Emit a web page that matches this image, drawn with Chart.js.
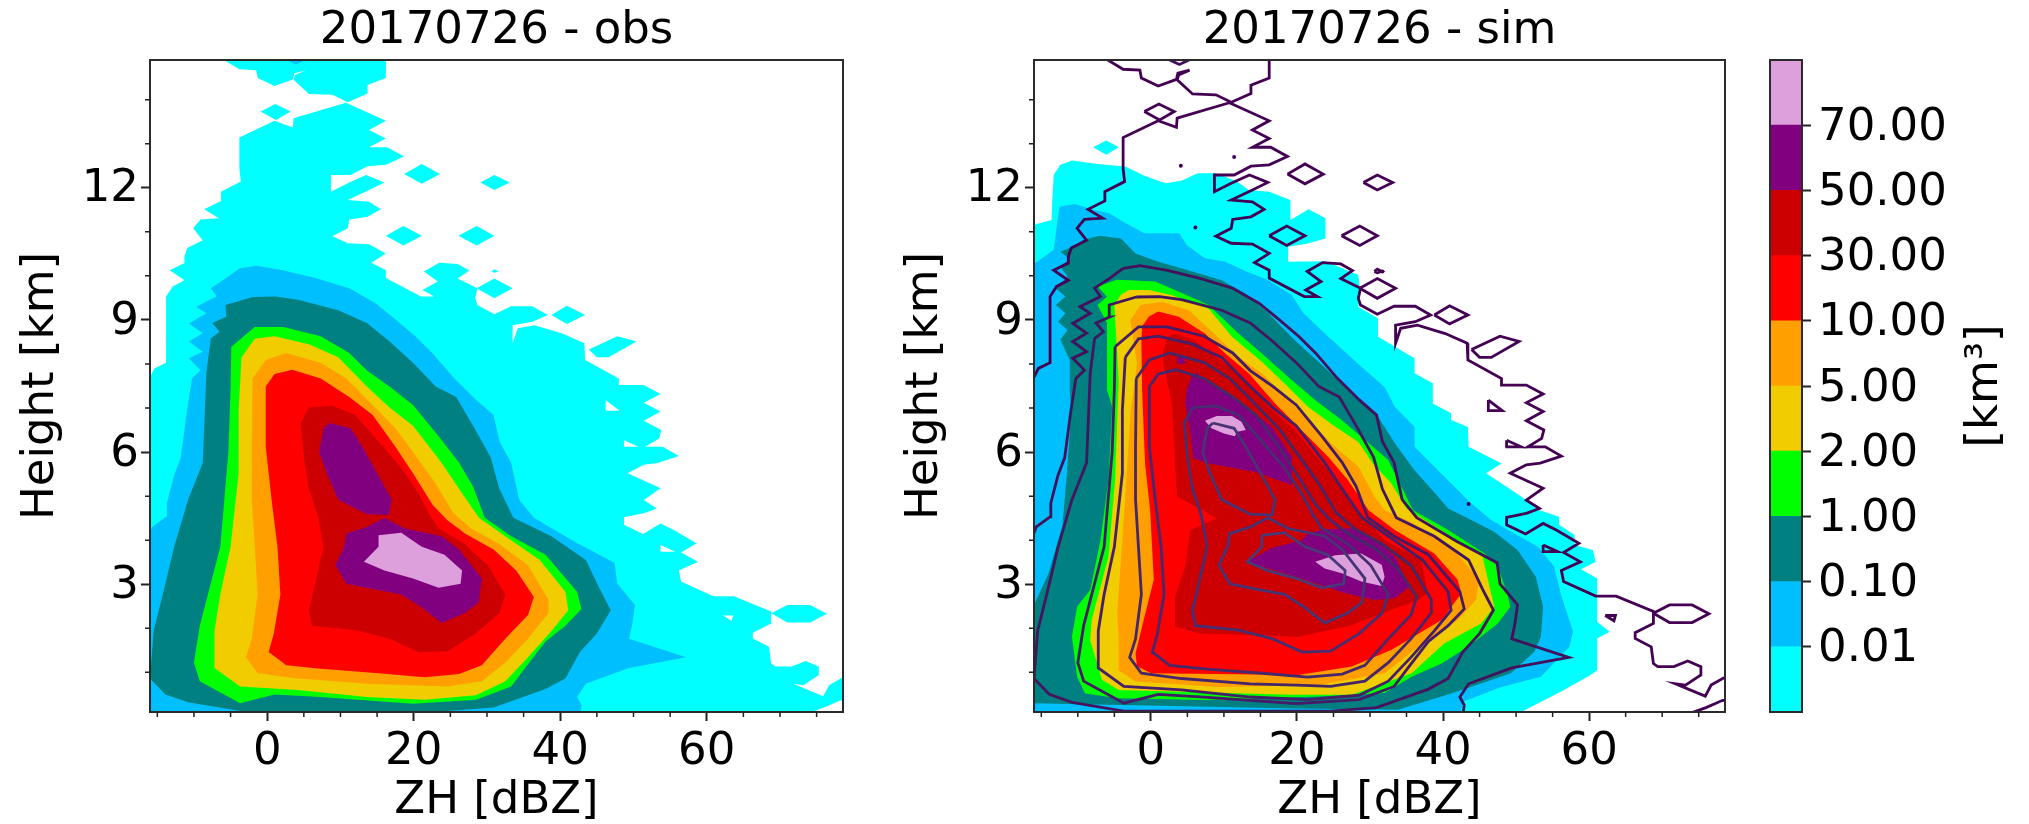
<!DOCTYPE html>
<html lang="en">
<head>
<meta charset="UTF-8">
<title>20170726 obs vs sim</title>
<script src="https://cdn.jsdelivr.net/npm/chart.js"></script>
<style>
    body { margin: 0; background: #fff; width: 2029px; height: 824px; overflow: hidden; }
    canvas { position: absolute; top: 0; filter: blur(0.5px); }
    #obsChart { left: 0; }
    #simChart { left: 884px; }
    #barChart { left: 1765px; }
</style>
</head>
<body>
<canvas id="obsChart" width="845" height="824"></canvas>
<canvas id="simChart" width="845" height="824"></canvas>
<canvas id="barChart" width="264" height="824"></canvas>

<script>
// colour classes, low to high
const levelColors = ['#00FFFF', '#00BFFF', '#008080', '#00FF00', '#F0CC00', '#FF9F00', '#FF0000', '#CC0000', '#800080', '#DDA0DD'];
const lineColors = ['#440154', '#43105c', '#44155f', '#451a66', '#451f68', '#452669', '#46286c', '#462e70', '#473474', '#483a78'];
const colorbarTicks = ['0.01', '0.10', '1.00', '2.00', '5.00', '10.00', '30.00', '50.00', '70.00'];
const colorbarBands = [1, 1, 1, 1, 1, 1, 1, 1, 1, 1];

const xMajor = [0, 20, 40, 60];
const xMinor = [-15, -10, -5, 5, 10, 15, 25, 30, 35, 45, 50, 55, 65, 70, 75];
const yMajor = [3, 6, 9, 12];
const yMinor = [1, 2, 4, 5, 7, 8, 10, 11, 13, 14];

// observed contours [dBZ, km], points past the frame get clipped
const obsCyanTop = [[-5.9,15.3],[-5.9,14.9],[-3.8,14.69],[-1.5,14.67],[-1.3,14.49],[1,14.31],[3.5,14.46],[3.7,14.6],[5.3,14.67],[3.8,14.56],[3.6,14.45],[5.7,14.13],[8.9,14.11],[11,13.94],[13.7,14.14],[13.7,14.33],[16.2,14.49],[16.2,15.3]];
const obsCyanMain = [[10.75,13.93],[16.2,13.52],[13.9,13.31],[16.2,13.12],[13.9,12.92],[16.4,12.92],[18.7,12.71],[16.2,12.52],[13.7,12.49],[11.4,12.29],[8.7,12.29],[8.7,11.91],[11,12.1],[13.5,12.29],[16,12.12],[13.9,11.95],[11,11.72],[13.9,11.68],[15.5,11.51],[13.7,11.34],[11.2,11.28],[11,11.08],[8.9,10.9],[11,10.74],[13.9,10.72],[16.2,10.51],[14.2,10.3],[16.2,10.13],[16.2,9.95],[21,9.53],[22.8,9.53],[21.2,9.68],[23.3,9.87],[21.4,10.1],[23.5,10.3],[26,10.27],[27.6,10.12],[26,9.94],[28.7,9.72],[28.4,9.49],[28.7,9.34],[31,9.13],[33.3,9.31],[36.2,9.31],[38.3,9.11],[36.2,8.96],[33.5,8.88],[33.5,8.47],[34.2,8.81],[36.5,8.88],[40.3,8.69],[43.3,8.47],[43.4,8.09],[48,7.67],[48,7.52],[51.4,7.52],[53.7,7.32],[51.4,7.12],[53.7,6.92],[51.4,6.71],[53.8,6.5],[53.5,6.31],[51.6,6.12],[54,6.12],[56.2,5.91],[53.3,5.75],[51.4,5.71],[49.2,5.52],[53.7,5.18],[51.4,4.91],[53.2,4.72],[51.4,4.61],[48.7,4.52],[48.7,4.35],[51.3,4.14],[53.7,4.38],[55.5,4.23],[58.6,3.93],[56.5,3.72],[58.8,3.51],[56.2,3.31],[56.5,3.06],[60.9,2.73],[63.7,2.73],[68.8,2.38],[68.8,2.11],[66.3,1.9],[66.3,1.77],[68.5,1.58],[68.8,1.2],[69.4,1.13],[71.6,1.13],[73.5,1.26],[75.3,1.13],[75.3,0.94],[73.2,0.71],[71.8,0.74],[75.9,0.46],[76.7,0.71],[78.4,0.87],[80,0.95],[80,0.4],[78.2,0.36],[76,0.2],[74,0.08],[73,-0.5],[-18,-0.5],[-18,7.67],[-16.1,7.67],[-15.4,7.9],[-13.8,8.03],[-13.8,9.53],[-12.9,9.76],[-11.3,9.9],[-13.3,10.13],[-11.3,10.29],[-11.3,10.44],[-10.9,10.63],[-8.8,10.81],[-10.1,11.08],[-9.1,11.28],[-6.6,11.31],[-8.6,11.51],[-6.3,11.7],[-6.3,11.91],[-3.6,12.14],[-3.8,12.44],[-3.8,13.14],[1,13.52],[3.5,13.37],[3.6,13.58]];
const obsCyanIslands = [
    [[-0.9,13.73],[1.1,13.9],[3.2,13.73],[1.2,13.54]],
    [[18.7,12.31],[21.1,12.54],[23.6,12.31],[21.1,12.09]],
    [[29.1,12.12],[31,12.29],[33.1,12.12],[31,11.95]],
    [[16.2,10.91],[18.6,11.13],[21.1,10.91],[18.6,10.69]],
    [[26.1,10.91],[28.6,11.13],[31,10.91],[28.6,10.69]],
    [[30.6,10.1],[31,10.15],[31.6,10.1],[31,10.07]],
    [[28.6,9.72],[31,9.94],[33.5,9.72],[31,9.49]],
    [[38.8,9.11],[40.9,9.32],[43.4,9.11],[40.9,8.91]],
    [[43.9,8.33],[47.8,8.63],[50.4,8.51],[46.6,8.15],[45,8.15]],
    [[68.8,2.34],[71,2.53],[74.1,2.53],[76.4,2.33],[74.1,2.13],[71,2.13]]
];
const obsHoles = [
    [[46.2,7.18],[48.1,6.94],[46.2,6.94]],
    [[48.7,6.27],[50.7,6.12],[48.7,6.12]],
    [[53.7,3.89],[55.7,3.74],[53.7,3.74]],
    [[62.2,2.29],[63.6,2.29],[63.4,2.17]]
];
const obsSpecks = [[11.4,12.7],[4.1,12.5],[6.1,11.1],[31.7,10.1],[43.5,4.82]];
const obsSkyTop = [[2.6,15.3],[2.6,14.9],[3.9,14.8],[5.2,14.9],[5.2,15.3]];
const obsSky = [[-3.8,10.17],[-1.5,10.23],[2.1,10.13],[6.6,9.95],[11.2,9.72],[14.8,9.38],[17.6,9],[20.3,8.62],[22.6,8.24],[25.5,7.68],[28.5,7.19],[30.9,6.84],[31.7,6.24],[33.3,5.76],[34.4,4.92],[36.4,4.51],[41.9,3.97],[47.4,3.49],[47.8,3.01],[50.2,2.53],[49.8,2.06],[49.4,1.76],[57.2,1.34],[49.4,1.1],[43.5,0.74],[42.3,0.44],[42.9,0.26],[42.3,-0.5],[-18,-0.5],[-18,4.08],[-16.2,4.08],[-15.7,4.3],[-13.8,4.53],[-13.7,4.84],[-12.7,5.48],[-11.8,5.87],[-11,6.88],[-10.3,7.64],[-10.2,7.68],[-9.1,7.86],[-10.7,8.13],[-8.8,8.28],[-10.7,8.51],[-8.8,8.7],[-10.7,8.92],[-8.3,9.15],[-9.7,9.3],[-6.9,9.53],[-7.7,9.72],[-5.6,9.95]];
const obsTeal = [[-2,9.52],[1.2,9.53],[4.2,9.46],[9.7,9.22],[13.6,8.93],[16.7,8.51],[19.9,8.03],[23,7.49],[25.8,7.25],[28.1,6.6],[30.5,5.88],[31.7,5.16],[33.6,4.51],[38.8,4.09],[43.5,3.55],[45.4,2.89],[46.9,2.41],[45,1.88],[42.7,1.46],[40.7,0.86],[38,0.62],[30.9,0.2],[24.6,0.12],[-3.7,0.12],[-10.8,0.32],[-13.9,0.5],[-16,0.86],[-15.5,1.94],[-13.9,3.01],[-12.7,3.85],[-10.8,4.92],[-8.8,5.76],[-8.3,7.8],[-7.7,8.58],[-6.5,8.73],[-7.5,8.93],[-5.6,9.07],[-5.7,9.34]];
const obsLime = [[-4.9,8.39],[-1.7,8.84],[2.2,8.84],[7.3,8.63],[11.2,8.25],[13.6,7.85],[16.7,7.49],[19.9,7.07],[23.4,6.36],[26.2,5.76],[28.1,5.22],[29.7,4.51],[33.3,4.09],[38,3.67],[42.3,2.83],[42.9,2.44],[40.7,2.06],[38,1.7],[35.2,1.1],[33.3,0.68],[28.5,0.38],[19.9,0.29],[7.3,0.44],[1,0.5],[-3.7,0.3],[-9.2,0.8],[-10,1.22],[-9.2,2.06],[-6.4,3.85],[-5.3,6],[-5,7.43]];
const obsGold = [[-3.5,8.15],[-1.7,8.57],[1,8.63],[5.7,8.45],[9.7,8.15],[13.6,7.49],[16.7,7.01],[19.9,6.6],[23.8,5.76],[26.2,5.16],[28.9,4.51],[32.5,4.09],[37.2,3.55],[40.7,2.83],[41.1,2.41],[38.8,1.94],[35.6,1.34],[32.5,0.8],[28.5,0.48],[21.5,0.38],[13.6,0.44],[4.2,0.6],[-3.7,0.68],[-7.2,1.1],[-7.2,1.94],[-6.4,2.77],[-5,3.85],[-3.9,5.52],[-3.9,6.95]];
const obsOrange = [[-2,7.67],[-0.2,8.09],[2.6,8.25],[7.3,8.03],[10.8,7.67],[14.4,7.07],[17.5,6.54],[19.9,6],[23,5.28],[25.4,4.62],[27.8,4.27],[31.7,3.91],[35.6,3.43],[38.4,2.65],[38.4,2.35],[35.6,1.76],[32.5,1.22],[29.3,0.8],[24.6,0.68],[19.9,0.71],[13.6,0.74],[4.2,0.86],[-1.3,0.98],[-2.9,1.34],[-2.1,1.76],[-1.3,2.77],[-1.7,3.85],[-2.1,4.92],[-2.1,6.12]];
const obsRed = [[-0.2,7.49],[1,7.77],[3.4,7.87],[7.3,7.67],[11.2,7.25],[14.4,6.84],[17.5,6.12],[19.9,5.52],[22.6,4.8],[24.6,4.45],[27,4.15],[30.9,3.79],[34,3.31],[36.4,2.71],[35.6,2.3],[32.5,1.76],[29.3,1.16],[26.2,0.96],[21.5,0.89],[15.2,0.98],[7.3,1.08],[2.6,1.16],[0.2,1.46],[0.9,1.88],[1.8,2.77],[1.4,3.85],[0.6,4.92],[-0.2,6.12]];
const obsDarkRed = [[5.7,7.01],[8.9,7.05],[12,6.84],[15.2,6.24],[18.3,5.64],[20.7,5.04],[22.2,4.57],[23.4,4.27],[27,3.91],[30.1,3.43],[32.5,2.77],[31.7,2.35],[28.5,1.88],[24.6,1.48],[20.7,1.46],[16.7,1.76],[12,1.96],[6.1,2.06],[5.7,2.41],[6.7,3.13],[7.7,3.85],[6.9,4.57],[5.7,5.16],[5,5.88],[4.6,6.66]];
const obsPurpleUp = [[8.5,6.66],[11.4,6.54],[13.2,6.06],[15.2,5.46],[17,4.92],[16.6,4.57],[13.6,4.59],[9.7,4.92],[8.1,5.52],[7.1,6],[7.7,6.54]];
const obsPurpleLow = [[16,4.51],[18.7,4.27],[23.8,4.09],[26.2,3.79],[29.3,3.13],[28.9,2.59],[27,2.35],[23.8,2.12],[21.1,2.47],[18.3,2.77],[14.4,2.89],[10.8,3.01],[9.3,3.43],[10.5,3.85],[10.8,4.15],[13.6,4.3]];
const obsPlum = [[15.2,4.11],[18.3,4.17],[21.1,3.85],[24.2,3.67],[26.6,3.31],[26.4,3.01],[23.4,2.92],[19.9,3.13],[16,3.31],[13.2,3.51],[15.2,3.85]];

// simulated contours [dBZ, km]
const simCyan = [[-18,11.16],[-16,11.16],[-13.6,11.27],[-13.5,11.72],[-13.3,12.29],[-12.4,12.52],[-10.8,12.62],[-7.3,12.54],[-3.5,12.48],[-0.9,12.27],[2,12.1],[4.2,12.16],[6.4,12.33],[8.9,12.33],[11.8,12.14],[13.4,11.95],[16.2,11.91],[19.1,11.72],[19.1,11.27],[21.6,11.51],[23.9,11.31],[23.9,10.85],[21.3,10.73],[18.8,10.66],[18.8,10.32],[23.9,10.33],[28.4,10.02],[28.6,9.72],[28.4,9.3],[31.1,9.03],[31.1,8.62],[36.1,8.13],[36.1,7.79],[38.6,7.56],[38.6,7.1],[41.1,6.88],[41.1,6.73],[43.4,6.57],[43.5,6.12],[48,5.74],[45.9,5.52],[50.7,4.99],[53,4.69],[55.9,4.53],[55.9,4.35],[58,4.12],[58,3.89],[60.5,3.78],[60.9,3.51],[58.9,3.34],[61.1,3.13],[61.1,2.15],[62.8,1.92],[61.1,1.77],[61.1,1.05],[60.2,0.94],[56.1,0.56],[51,0.13],[50.5,-0.5],[-18,-0.5]];
const simCyanIsland = [[-7.9,12.92],[-6.1,13.07],[-4.4,12.92],[-6.1,12.75]];
const simSky = [[-12.5,11.57],[-10.4,11.63],[-7.9,11.5],[-5.7,11.42],[-3.5,11.2],[-0.9,10.97],[3.9,10.97],[4.9,10.7],[7.4,10.4],[10.2,10.32],[13.1,10.1],[16.1,9.9],[19.3,9.56],[20.9,9.15],[24.3,8.62],[28.4,8],[32,7.48],[33.4,7.03],[36.1,6.57],[36.1,6.12],[39.3,5.59],[42.5,5.06],[43.6,4.87],[46.6,4.46],[49.3,4.19],[53,3.85],[55.2,3.4],[56.1,2.79],[57.8,1.92],[57.3,1.58],[53.4,0.9],[48,0.67],[42.7,0.33],[42.5,0.15],[42,-0.5],[-18,-0.5],[-18,10.29],[-15.8,10.29],[-13.3,10.59],[-12.7,11.35]];
const simTeal = [[-12.4,10.55],[-10.1,10.7],[-9.2,10.82],[-7,10.91],[-4.1,10.85],[-2.1,10.51],[1,10.32],[5.1,10.13],[9.7,9.9],[12.9,9.6],[16.1,9.15],[19.7,8.54],[23.4,7.98],[27,7.41],[31.1,6.8],[33.4,6.2],[36.1,5.59],[39.3,4.99],[40.7,4.72],[43.4,4.5],[47,4.19],[50.2,3.78],[52.7,3.17],[53.7,2.49],[53.4,1.81],[52.5,1.47],[49.3,0.98],[43.8,0.67],[39.8,0.45],[33.8,0.15],[20,0.18],[-16.3,0.3],[-18,0.3],[-18,2.53],[-16,2.53],[-14,3.25],[-12.1,4.33],[-11.5,5.52],[-10.9,6.95],[-11.1,7.41],[-11.1,8.09],[-12.4,8.55],[-11.4,8.77],[-12.7,8.96],[-11.7,9.15],[-13,9.34],[-11.7,9.53],[-13,9.72],[-11.4,9.98],[-12.4,10.21],[-11.1,10.38]];
const simLime = [[-7.3,9.76],[-4.7,9.91],[-3,9.9],[0.6,9.87],[3.3,9.68],[7.9,9.34],[12,8.69],[15.2,8.24],[19.3,7.63],[22.5,7.18],[26.1,6.73],[28.8,6.35],[32.5,5.82],[34.3,5.21],[35.9,4.68],[40.7,4.23],[45.7,3.7],[47.5,3.4],[48.9,2.72],[49.2,2.49],[47.5,2.11],[43.4,1.58],[39.8,1.2],[35.7,0.9],[32,0.53],[22.9,0.45],[7.4,0.37],[-4.4,0.41],[-9,0.52],[-10.1,0.9],[-10.8,1.81],[-10.1,2.49],[-8.3,2.87],[-6.9,4],[-5.8,5.37],[-5.3,7.03],[-6,7.41],[-6,8.93],[-7.3,9.34],[-6,9.53]];
const simGold = [[-5,9.34],[-4.1,9.57],[-3,9.68],[-0.3,9.68],[2.9,9.56],[7.9,9.26],[11.1,8.62],[15.2,8.05],[18.8,7.48],[21.5,7.03],[25.2,6.58],[28.4,6.23],[30.4,5.74],[32.9,5.29],[35,4.72],[41.1,4.08],[45.4,3.63],[47,2.49],[45.2,2.11],[40.2,1.66],[35.7,0.98],[27.5,0.49],[19.3,0.49],[-4.4,0.6],[-6.7,0.83],[-8.3,1.73],[-8.1,2.19],[-5.8,3.63],[-4.9,5.37],[-4.4,7.64]];
const simOrange = [[-2.8,9],[-1.4,9.34],[1.5,9.41],[5.2,9.22],[8.1,8.77],[12,8.16],[15.2,7.79],[18.8,7.2],[21.5,6.73],[25.2,6.12],[28.4,5.67],[30.6,4.99],[32,4.68],[35.7,4.4],[41.1,3.85],[45,3.1],[44.5,2.64],[42,2.19],[36.6,1.58],[32,0.98],[22.9,0.71],[9.2,0.67],[-2.1,0.79],[-4.4,1.05],[-4.4,1.81],[-4.6,2.34],[-3.5,4.99],[-2.8,6.88],[-1.9,8.01]];
const simRed = [[-1.2,8.85],[-0.3,9.07],[1,9.19],[3.8,9.07],[7.4,8.69],[10.2,8.24],[13.4,7.79],[17,7.1],[20.6,6.5],[24.3,5.89],[27,5.36],[29.8,4.68],[33.4,4.23],[38.8,3.7],[42,3.1],[42.5,2.79],[39.8,2.19],[32.9,1.51],[27.5,1.13],[20.2,0.94],[0.1,0.98],[-1.9,1.13],[-2.1,1.43],[-1.2,2.04],[0.4,3.1],[-0.1,4.68],[-0.8,5.74],[-1.2,7.41],[-1.3,8.54]];
const simDarkRed = [[1.7,8.31],[2.4,8.62],[3.3,8.69],[6,8.54],[8.6,8.2],[12,7.79],[16.1,7.03],[19.7,6.5],[23.8,5.67],[26.1,5.21],[28.4,4.68],[32,4],[37,3.55],[37.9,2.8],[36.6,2.64],[32.9,2.42],[27.5,2.07],[20.2,1.81],[6.5,1.89],[3.3,2.04],[3.3,2.72],[4.7,3.4],[5.4,4.23],[9,4.5],[3.6,4.99],[3.3,5.74],[2.9,7.1],[1.7,8.01]];
const simPurpleUp = [[5.6,7.71],[6.3,7.82],[7.2,7.63],[12,7.18],[16.5,6.58],[19.3,5.9],[19.3,5.25],[14.3,5.55],[7.9,5.74],[5.8,5.86],[5.4,6.42],[4.7,7.1],[4.9,7.41]];
const simPurpleSpeck = [[3.6,8.17],[4.7,8.17],[4.7,8.01],[3.7,8]];
const simPurpleLow = [[13.2,3.51],[16.5,3.82],[20.6,4],[21.5,4.16],[23.8,4.25],[27.5,4.27],[30.2,4.08],[33.4,3.63],[35.4,2.95],[33.4,2.68],[30.6,2.64],[26.5,2.8],[21.1,3.1]];
const simPlumUp = [[7.4,6.71],[9,6.82],[11.1,6.82],[12.4,6.69],[13,6.5],[11.8,6.46],[11.5,6.36],[10,6.42],[8.3,6.54]];
const simPlumLow = [[22.5,3.51],[25.2,3.66],[28.8,3.7],[31.6,3.44],[32,3.17],[31.6,2.96],[28.8,3.06],[26.1,3.25],[23.8,3.36]];

// one list of polygons per colour class
const obsPolys = [
    [obsCyanTop, obsCyanMain, ...obsCyanIslands],
    [obsSkyTop, obsSky],
    [obsTeal],
    [obsLime],
    [obsGold],
    [obsOrange],
    [obsRed],
    [obsDarkRed],
    [obsPurpleUp, obsPurpleLow],
    [obsPlum]
];
const simPolys = [
    [simCyan, simCyanIsland],
    [simSky],
    [simTeal],
    [simLime],
    [simGold],
    [simOrange],
    [simRed],
    [simDarkRed],
    [simPurpleUp, simPurpleSpeck, simPurpleLow],
    [simPlumUp, simPlumLow]
];

const FONT = 'DejaVu Sans';
const toPts = poly => poly.map(p => ({ x: p[0], y: p[1] }));

// Chart.js draws the highest order first, so low classes go to the back
function fillSets(polys) {
    const sets = [];
    polys.forEach((group, i) => {
        group.forEach(poly => {
            sets.push({
                data: toPts(poly), backgroundColor: levelColors[i], borderWidth: 0,
                fill: 'shape', pointRadius: 0, tension: 0, order: 100 - i
            });
        });
    });
    return sets;
}

function lineSets(polys) {
    const sets = [];
    polys.forEach((group, i) => {
        group.forEach(poly => {
            sets.push({
                data: toPts(poly.concat([poly[0]])), borderColor: lineColors[i], borderWidth: 2.8,
                fill: false, pointRadius: 0, tension: 0, order: -10 - i
            });
        });
    });
    return sets;
}

function holeSets() {
    return obsHoles.map(poly => ({
        data: toPts(poly), backgroundColor: '#ffffff', borderWidth: 0,
        fill: 'shape', pointRadius: 0, tension: 0, order: 99.5
    }));
}

const framePlugin = {
    id: 'frame',
    afterDatasetsDraw(chart) {
        const a = chart.chartArea, ctx = chart.ctx;
        ctx.save();
        ctx.strokeStyle = '#2b2b2b';
        ctx.lineWidth = 2;
        ctx.strokeRect(a.left, a.top, a.right - a.left, a.bottom - a.top);
        ctx.restore();
    }
};

const minorTicksPlugin = {
    id: 'minorTicks',
    afterDraw(chart) {
        if (!chart.scales.x || chart.config.type !== 'line') return;
        const ctx = chart.ctx, a = chart.chartArea;
        ctx.save();
        ctx.strokeStyle = '#222';
        ctx.lineWidth = 1.5;
        ctx.beginPath();
        xMinor.forEach(v => {
            const px = chart.scales.x.getPixelForValue(v);
            ctx.moveTo(px, a.bottom);
            ctx.lineTo(px, a.bottom + 5);
        });
        yMinor.forEach(v => {
            const py = chart.scales.y.getPixelForValue(v);
            ctx.moveTo(a.left, py);
            ctx.lineTo(a.left - 5, py);
        });
        ctx.stroke();
        ctx.restore();
    }
};

function panel(id, title, datasets) {
    return new Chart(document.getElementById(id), {
        type: 'line',
        data: { datasets: datasets },
        options: {
            responsive: false,
            animation: false,
            devicePixelRatio: 1,
            layout: { padding: { right: 2 } },
            plugins: {
                legend: { display: false },
                tooltip: { enabled: false },
                title: {
                    display: true, text: title, color: '#000', fullSize: false,
                    font: { family: FONT, size: 45, weight: 'normal', lineHeight: 1.1 },
                    padding: { top: 7, bottom: 3.5 }
                }
            },
            scales: {
                x: {
                    type: 'linear', min: -16, max: 78.6,
                    afterBuildTicks: s => { s.ticks = xMajor.map(v => ({ value: v })); },
                    afterFit: s => { s.height = 112; },
                    grid: { drawOnChartArea: false, tickLength: 9, tickWidth: 2, tickColor: '#222' },
                    border: { display: false },
                    ticks: { color: '#000', maxRotation: 0, padding: 4, font: { family: FONT, size: 45 } },
                    title: { display: true, text: 'ZH [dBZ]', color: '#000', padding: 0, font: { family: FONT, size: 45, lineHeight: 1 } }
                },
                y: {
                    type: 'linear', min: 0.1, max: 14.9,
                    afterBuildTicks: s => { s.ticks = yMajor.map(v => ({ value: v })); },
                    afterFit: s => { s.width = 150; },
                    grid: { drawOnChartArea: false, tickLength: 9, tickWidth: 2, tickColor: '#222' },
                    border: { display: false },
                    ticks: { color: '#000', padding: 2, labelOffset: 2, font: { family: FONT, size: 45 } },
                    title: { display: true, text: 'Height [km]', color: '#000', padding: 19, font: { family: FONT, size: 45, lineHeight: 1 } }
                }
            }
        },
        plugins: [framePlugin, minorTicksPlugin]
    });
}

panel('obsChart', '20170726 - obs', fillSets(obsPolys).concat(holeSets()));

const speckSet = {
    data: toPts(obsSpecks), showLine: false, pointRadius: 2,
    pointBackgroundColor: lineColors[0], pointBorderWidth: 0, order: -50
};
panel('simChart', '20170726 - sim',
    fillSets(simPolys).concat(lineSets(obsPolys), lineSets([obsHoles]), [speckSet]));

const barTitlePlugin = {
    id: 'barTitle',
    afterDraw(chart) {
        const ctx = chart.ctx;
        ctx.save();
        ctx.translate(chart.width - 44, 386);
        ctx.rotate(-Math.PI / 2);
        ctx.font = '45px "' + FONT + '"';
        ctx.fillStyle = '#000';
        ctx.textAlign = 'center';
        ctx.textBaseline = 'middle';
        ctx.fillText('[km\u00B3]', 0, 0);
        ctx.restore();
    }
};

new Chart(document.getElementById('barChart'), {
    type: 'bar',
    data: {
        labels: [''],
        datasets: colorbarBands.map((v, i) => ({
            data: [v], backgroundColor: levelColors[i], borderWidth: 0,
            barPercentage: 1, categoryPercentage: 1
        }))
    },
    options: {
        responsive: false,
        animation: false,
        devicePixelRatio: 1,
        layout: { padding: { left: 5, top: 60, bottom: 112 } },
        plugins: { legend: { display: false }, tooltip: { enabled: false } },
        scales: {
            x: { stacked: true, display: false },
            y: {
                stacked: true, position: 'right', min: 0, max: colorbarBands.length,
                afterBuildTicks: s => { s.ticks = colorbarTicks.map((t, i) => ({ value: i + 1 })); },
                afterFit: s => { s.width = 227; },
                grid: { drawOnChartArea: false, tickLength: 9, tickWidth: 2, tickColor: '#222' },
                border: { display: false },
                ticks: {
                    color: '#000', padding: 7, labelOffset: 3, font: { family: FONT, size: 45 },
                    callback: v => colorbarTicks[v - 1]
                }
            }
        }
    },
    plugins: [framePlugin, barTitlePlugin]
});
</script>
</body>
</html>
